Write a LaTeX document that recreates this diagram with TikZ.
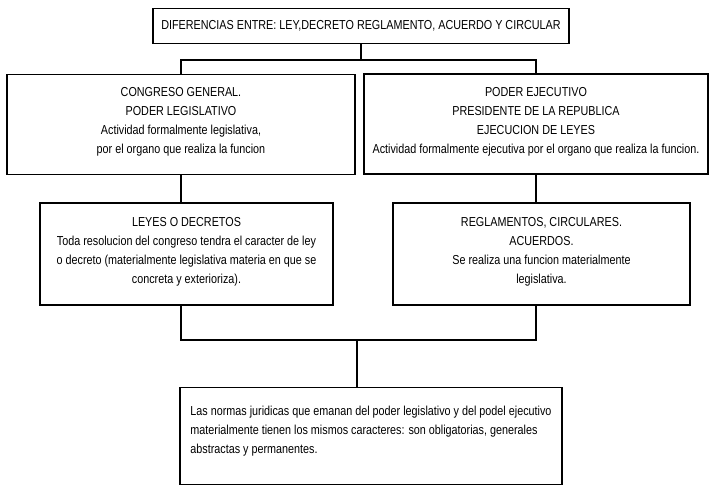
\documentclass[tikz,border=0pt]{standalone}
\usepackage{fontspec}
\setmainfont{Liberation Sans}[FakeStretch=0.83]
\usetikzlibrary{positioning}

\begin{document}
\begin{tikzpicture}[
  x=1pt, y=-1pt,
  font=\fontsize{13}{19}\selectfont,
  caja/.style    ={draw, line width=1.1pt, align=center, inner sep=2pt},
  titulo/.style  ={caja, minimum width=416pt, minimum height=35pt},
  poder/.style   ={caja, minimum height=100pt},
  norma/.style   ={caja, minimum height=102pt},
  final/.style   ={caja, align=left, minimum width=382pt, minimum height=97pt},
  linea/.style   ={line width=1.1pt},
]
\useasboundingbox (0,0) rectangle (710,488);

% ---------------- title ----------------------------------------------------
\node[titulo] (dif) at (361, 26)
  {DIFERENCIAS ENTRE: LEY,DECRETO REGLAMENTO, ACUERDO Y CIRCULAR};

% ---------------- the two powers -------------------------------------------
\node[poder, minimum width=348pt] (congreso) at (181, 124.5)
  {CONGRESO GENERAL.\\PODER LEGISLATIVO\\Actividad formalmente legislativa,\\
   por el organo que realiza la funcion\\[-11pt]\mbox{}};
\node[poder, minimum width=344pt] (ejecutivo) at (536, 124)
  {PODER EJECUTIVO\\PRESIDENTE DE LA REPUBLICA\\EJECUCION DE LEYES\\
   Actividad formalmente ejecutiva por el organo que realiza la funcion.\\[-11pt]\mbox{}};

\coordinate (rama) at (361, 60);
\draw[linea] (dif.south) -- (rama);
\draw[linea] (congreso.north) |- (rama) -| (ejecutivo.north);

% ---------------- what each one issues -------------------------------------
\node[norma, minimum width=293pt] (leyes) at (186.5, 254)
  {LEYES O DECRETOS\\Toda resolucion del congreso tendra el caracter de ley\\
   o decreto (materialmente legislativa materia en que se\\concreta y exterioriza).\\[-11pt]\mbox{}};
\node[norma, minimum width=297pt] (regla) at (541.5, 254)
  {REGLAMENTOS, CIRCULARES.\\ACUERDOS.\\Se realiza una funcion materialmente\\legislativa.\\[-11pt]\mbox{}};

\draw[linea] (congreso.south) -- (congreso.south |- leyes.north);
\draw[linea] (ejecutivo.south) -- (ejecutivo.south |- regla.north);

% ---------------- common result --------------------------------------------
\node[final] (normas) at (371, 436)
  {Las normas juridicas que emanan del poder legislativo y del podel ejecutivo\\
   materialmente tienen los mismos caracteres: son obligatorias, generales\\
   abstractas y permanentes.\\[-7pt]\mbox{}};

\coordinate (union) at (357, 340);
\draw[linea] (leyes.south -| congreso.south) |- (union);
\draw[linea] (regla.south -| ejecutivo.south) |- (union);
\draw[linea] (union) -- (union |- normas.north);

\end{tikzpicture}
\end{document}
